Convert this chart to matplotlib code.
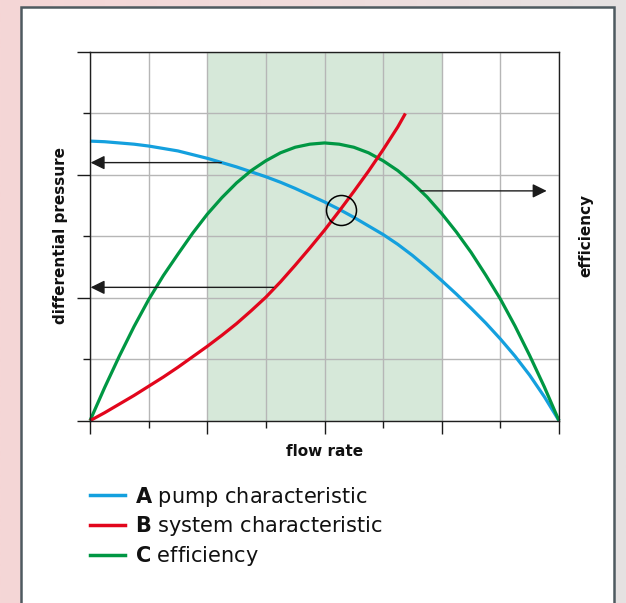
import matplotlib
matplotlib.use('Agg')
import matplotlib.pyplot as plt
import numpy as np
from matplotlib.patches import Rectangle
from matplotlib.lines import Line2D
from matplotlib.colors import LinearSegmentedColormap

# values (x: flow rate grid units, y: grid units)
flow = [0, 0.25, 0.5, 0.75, 1, 1.25, 1.5, 1.75, 2, 2.25, 2.5, 2.75, 3, 3.25, 3.5, 3.75,
        4, 4.25, 4.5, 4.75, 5, 5.25, 5.5, 5.75, 6, 6.25, 6.5, 6.75, 7, 7.25, 7.5, 7.75, 8]
pump = [4.55, 4.54, 4.52, 4.50, 4.47, 4.43, 4.39, 4.33, 4.27, 4.20, 4.13, 4.05,
        3.97, 3.88, 3.78, 3.67, 3.56, 3.44, 3.31, 3.17, 3.03, 2.87, 2.69, 2.49,
        2.28, 2.06, 1.83, 1.59, 1.33, 1.05, 0.74, 0.39, 0.0]
efficiency = [0.0, 0.54, 1.05, 1.53, 1.97, 2.36, 2.71, 3.05, 3.36, 3.63, 3.87, 4.07,
              4.23, 4.36, 4.45, 4.50, 4.52, 4.50, 4.45, 4.36, 4.23, 4.07, 3.87, 3.64,
              3.37, 3.07, 2.74, 2.37, 1.98, 1.54, 1.06, 0.55, 0.0]
system_flow = [0, 0.25, 0.5, 0.75, 1, 1.25, 1.5, 1.75, 2, 2.25, 2.5, 2.75, 3, 3.25,
               3.5, 3.75, 4, 4.25, 4.5, 4.75, 5, 5.25, 5.38]
system = [0.0, 0.13, 0.27, 0.41, 0.56, 0.71, 0.87, 1.04, 1.21, 1.39, 1.58, 1.79,
          2.01, 2.26, 2.53, 2.81, 3.10, 3.41, 3.73, 4.06, 4.41, 4.78, 5.0]

best_range = (2, 6)
operating_point = (4.28, 3.43)
# arrows: (start x, end x, y)
arrows = [(2.24, 0.01, 4.20), (3.13, 0.01, 2.17), (5.64, 7.79, 3.74)]

legend_labels = ['A', 'B', 'C']
legend_texts = ['pump characteristic', 'system characteristic', 'efficiency']

BLUE = '#14a0de'
RED = '#e2061c'
GREEN = '#009743'

W, H = 626, 603


def fx(px):
    return px / W


def fy(py):
    return 1 - py / H


fig = plt.figure(figsize=(6.26, 6.03), dpi=100)

# blurred background outside the panel
bg = fig.add_axes([0, 0, 1, 1], zorder=-10)
cmap = LinearSegmentedColormap.from_list('bg', ['#f5d6d6', '#f0dcdc', '#e5e2e2'])
bg.imshow(np.linspace(0, 1, 256)[None, :], aspect='auto', cmap=cmap, extent=[0, 1, 0, 1])
bg.axis('off')

panel = Rectangle((fx(20.8), -0.05), fx(614) - fx(20.8), fy(6.8) + 0.05,
                  transform=fig.transFigure, facecolor='white', edgecolor='#4e5a60',
                  linewidth=1.8, zorder=-5)
fig.add_artist(panel)

ax = fig.add_axes([fx(90), fy(420.7), fx(559) - fx(90), fy(52) - fy(420.7)])
ax.set_facecolor('white')
ax.set_xlim(0, 8)
ax.set_ylim(0, 6)

ax.axvspan(best_range[0], best_range[1], color='#d6e8d9', zorder=0, lw=0)

ax.set_xticks(range(0, 9, 2))
ax.set_xticks(range(1, 9, 2), minor=True)
ax.set_yticks(range(0, 7, 2))
ax.set_yticks(range(1, 7, 2), minor=True)
ax.tick_params(which='major', length=9.3, width=1.0, color='#1a1a1a',
               labelbottom=False, labelleft=False)
ax.tick_params(which='minor', length=4.7, width=1.0, color='#1a1a1a')
ax.grid(True, which='both', color='#b6b6b6', linewidth=1.0, zorder=1)
ax.set_axisbelow(True)
for s in ax.spines.values():
    s.set_color('#1f1f1f')
    s.set_linewidth(1.0)
    s.set_zorder(5)

ax.plot(flow, pump, color=BLUE, lw=2.3, zorder=3, clip_on=False,
        solid_capstyle='butt', solid_joinstyle='round')
ax.plot(system_flow, system, color=RED, lw=2.3, zorder=4, clip_on=False,
        solid_capstyle='butt', solid_joinstyle='round')
ax.plot(flow, efficiency, color=GREEN, lw=2.3, zorder=3.5, clip_on=False,
        solid_capstyle='butt', solid_joinstyle='round')

for x0, x1, y in arrows:
    ax.annotate('', xy=(x1, y), xytext=(x0, y),
                arrowprops=dict(arrowstyle='-|>,head_length=0.85,head_width=0.42',
                                color='#1c1c1c', lw=1.0, shrinkA=0, shrinkB=0),
                zorder=6)

ax.plot(*operating_point, 'o', ms=21.6, mfc='none', mec='black', mew=1.1, zorder=7)

fig.text(fx(60), fy(236), 'differential pressure', rotation=90, ha='center',
         va='center', fontsize=11, fontweight='bold', color='#111111')
fig.text(fx(586), fy(235), 'efficiency', rotation=90, ha='center',
         va='center', fontsize=11, fontweight='bold', color='#111111')
fig.text(fx(325), fy(452), 'flow rate', ha='center', va='center',
         fontsize=11, fontweight='bold', color='#111111')

colors = [BLUE, RED, GREEN]
line_y = [495, 524.5, 555]
base_y = [502.7, 532.2, 562.5]
for lab, txt, c, ly, by in zip(legend_labels, legend_texts, colors, line_y, base_y):
    fig.add_artist(Line2D([fx(90), fx(125)], [fy(ly), fy(ly)], color=c, lw=2.5,
                          transform=fig.transFigure))
    fig.text(fx(135), fy(by), r'$\mathbf{%s}$ %s' % (lab, txt), fontsize=15,
             va='baseline', ha='left', color='#111111')

fig.savefig('out.png', dpi=100)
